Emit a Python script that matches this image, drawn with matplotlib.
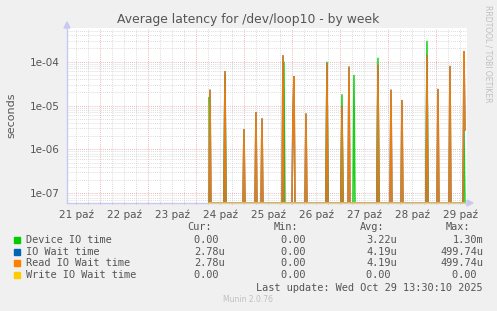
import numpy as np
import matplotlib
matplotlib.use('Agg')
import matplotlib.pyplot as plt
from matplotlib.ticker import FixedLocator, LogLocator, NullFormatter, FuncFormatter

# time in days since 21 Oct 00:00, sampled every 30 min
t_start = 3.27
t_end = 8.60

day_labels = ['21 paź', '22 paź', '23 paź', '24 paź', '25 paź', '26 paź', '27 paź', '28 paź', '29 paź']

read_t = [3.298, 3.604, 4.006, 4.25, 4.381, 4.802, 5.015, 5.048, 5.298, 5.723, 6.042,
          6.194, 6.798, 7.056, 7.298, 7.812, 8.048, 8.298, 8.58, 8.60]
read_v = [2.3e-5, 6.1e-5, 2.9e-6, 7.1e-6, 5.1e-6, 1.4e-4, 6.6e-6, 4.6e-5, 6.6e-6, 9.2e-5, 9.5e-6,
          7.7e-5, 8.4e-5, 2.3e-5, 1.34e-5, 1.4e-4, 2.4e-5, 8.0e-5, 1.75e-4, 2.78e-6]
dev_t = [3.28, 3.60, 4.827, 5.73, 6.042, 6.292, 6.798, 7.812, 8.59]
dev_v = [1.5e-5, 5.0e-5, 1.0e-4, 1.0e-4, 1.8e-5, 5.0e-5, 1.23e-4, 3.0e-4, 2.7e-6]

legend_names = ['Device IO time', 'IO Wait time', 'Read IO Wait time', 'Write IO Wait time']
colors = ['#00cc00', '#0066b3', '#ff8000', '#ffcc00']
cur = ['0.00 ', '2.78u', '2.78u', '0.00 ']
mins = ['0.00 ', '0.00 ', '0.00 ', '0.00 ']
avgs = ['3.22u', '4.19u', '4.19u', '0.00 ']
maxs = ['1.30m', '499.74u', '499.74u', '0.00 ']

ymin, ymax = 6.0e-8, 5.86e-4

n = int(round((t_end - t_start) * 48)) + 1
t = t_start + np.arange(n) / 48.0


def series(times, vals):
    s = np.zeros(n)
    for tt, vv in zip(times, vals):
        s[int(round((tt - t_start) * 48))] = vv
    return s


dev = series(dev_t, dev_v)
read = series(read_t, read_v)
iowait = read.copy()
write = np.zeros(n)

fig = plt.figure(figsize=(4.97, 3.11), dpi=100, facecolor='#f0f0f0')
ax = fig.add_axes([67 / 497, 108 / 311, 400 / 497, 175 / 311])
ax.set_facecolor('white')
ax.set_yscale('log')
ax.set_xlim(0.3125, 8.6458)
ax.set_ylim(ymin, ymax)

for s, c in zip([dev, iowait, read, write], colors):
    ax.plot(t, np.maximum(s, ymin), color=c, lw=1.1, solid_joinstyle='miter', zorder=3, alpha=0.9)

# grid
ax.xaxis.set_major_locator(FixedLocator(np.arange(1, 9)))
ax.xaxis.set_minor_locator(FixedLocator(np.arange(0, 9, 0.25)))
ax.yaxis.set_major_locator(LogLocator(base=10, numticks=10))
ax.yaxis.set_minor_locator(LogLocator(base=10, subs=np.arange(2, 10), numticks=20))
ax.yaxis.set_major_formatter(FuncFormatter(lambda v, p: f'{v:.0e}'))
ax.yaxis.set_minor_formatter(NullFormatter())
ax.xaxis.set_major_formatter(NullFormatter())
ax.grid(which='minor', color='#d0d0d0', lw=0.6, ls=(0, (1, 1.5)), zorder=1)
ax.grid(which='major', color='#e8a0a0', lw=0.6, ls=(0, (1, 1.5)), zorder=1)
ax.tick_params(which='both', length=2, direction='inout', color='#e0a0a0')
ax.tick_params(axis='y', which='both', length=0, labelsize=7.5, labelcolor='#555555', pad=5)
for sp in ['top', 'right']:
    ax.spines[sp].set_visible(False)
for sp in ['left', 'bottom']:
    ax.spines[sp].set_color('#c8c8f0')
    ax.spines[sp].set_linewidth(1.0)
    ax.spines[sp].set_zorder(2)

for i, lab in enumerate(day_labels):
    ax.text(i + 0.5, -0.035, lab, transform=ax.get_xaxis_transform(), ha='center', va='top',
            fontsize=7.5, color='#555555')

# axis arrows
fig.patches.append(plt.Polygon([[467 / 497, 1 - 200 / 311], [467 / 497, 1 - 206 / 311], [473 / 497, 1 - 203 / 311]],
                               transform=fig.transFigure, color='#c8c8f0', closed=True))
fig.patches.append(plt.Polygon([[64 / 497, 1 - 28 / 311], [70 / 497, 1 - 28 / 311], [67 / 497, 1 - 22 / 311]],
                               transform=fig.transFigure, color='#c8c8f0', closed=True))

fig.text(248 / 497, 1 - 19 / 311, 'Average latency for /dev/loop10 - by week', ha='center', va='center',
         fontsize=8.9, color='#555555')
fig.text(11 / 497, 1 - 115 / 311, 'seconds', rotation=90, ha='center', va='center', fontsize=8, color='#555555')
fig.text(488 / 497, 1 - 5 / 311, 'RRDTOOL / TOBI OETIKER', rotation=270, ha='center', va='top',
         fontsize=5.5, color='#c0c0c0')

mono = dict(family='DejaVu Sans Mono', fontsize=7.4, color='#555555', va='center')
fig.text(212 / 497, 1 - 227 / 311, 'Cur:', ha='right', **mono)
fig.text(298 / 497, 1 - 227 / 311, 'Min:', ha='right', **mono)
fig.text(384 / 497, 1 - 227 / 311, 'Avg:', ha='right', **mono)
fig.text(470 / 497, 1 - 227 / 311, 'Max:', ha='right', **mono)
rows_y = [240, 252, 263, 275]
for i in range(4):
    y = 1 - rows_y[i] / 311
    fig.patches.append(plt.Rectangle((14 / 497, y - 3 / 311), 6 / 497, 6 / 311, transform=fig.transFigure,
                                     color=colors[i]))
    fig.text(26 / 497, y, legend_names[i], ha='left', **mono)
    fig.text(225 / 497, y, cur[i], ha='right', **mono)
    fig.text(312 / 497, y, mins[i], ha='right', **mono)
    fig.text(397 / 497, y, avgs[i], ha='right', **mono)
    fig.text(483 / 497, y, maxs[i], ha='right', **mono)

fig.text(483 / 497, 1 - 288 / 311, 'Last update: Wed Oct 29 13:30:10 2025', ha='right', **mono)
fig.text(248 / 497, 1 - 300 / 311, 'Munin 2.0.76', ha='center', va='center', fontsize=5.5, color='#c0c0c0')

fig.savefig('out.png', dpi=100, facecolor=fig.get_facecolor())
